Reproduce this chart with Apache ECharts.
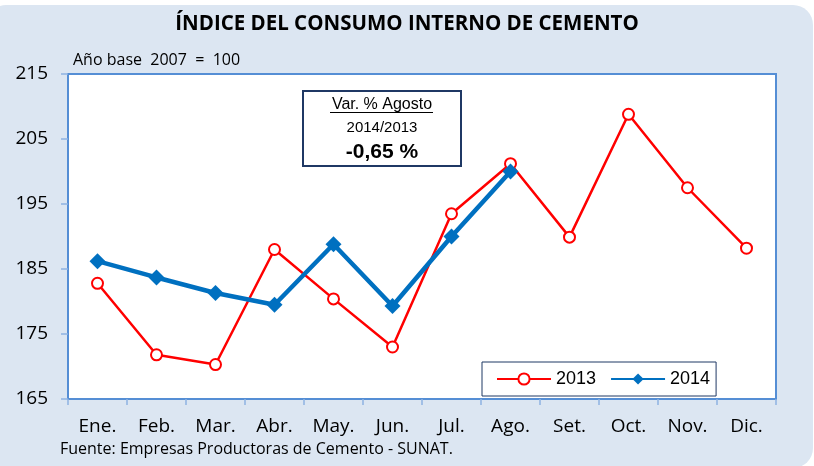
<!DOCTYPE html>
<html>
<head>
<meta charset="utf-8">
<script src="https://cdn.jsdelivr.net/npm/echarts@6/dist/echarts.min.js"></script>
<style>
    html, body { margin: 0; padding: 0; background: #ffffff; }
    #chart { width: 814px; height: 466px; }
</style>
</head>
<body>
<div id="chart"></div>
<script>
var months = ['Ene.', 'Feb.', 'Mar.', 'Abr.', 'May.', 'Jun.', 'Jul.', 'Ago.', 'Set.', 'Oct.', 'Nov.', 'Dic.'];
var values2013 = [182.8, 171.8, 170.3, 188.0, 180.4, 173.0, 193.5, 201.2, 189.9, 208.8, 197.5, 188.2];
var values2014 = [186.2, 183.7, 181.3, 179.5, 188.8, 179.3, 190.0, 200.0];
var yMin = 165, yMax = 215, yStep = 10;

var chartTitle = 'ÍNDICE DEL CONSUMO INTERNO DE CEMENTO';
var baseNote = 'Año base  2007  =  100';
var sourceNote = 'Fuente: Empresas Productoras de Cemento - SUNAT.';
var boxLines = ['Var. % Agosto', '2014/2013', '-0,65 %'];

var calibriLike = '"Open Sans", "DejaVu Sans", sans-serif';
var arialLike = '"Liberation Sans", Arial, sans-serif';

var myChart = echarts.init(document.getElementById('chart'));

var option = {
    animation: false,
    grid: {
        left: 68,
        right: 38,
        top: 74,
        bottom: 67,
        show: true,
        backgroundColor: '#ffffff',
        borderColor: '#558ed5',
        borderWidth: 2
    },
    graphic: [
        {
            type: 'rect',
            z: -10,
            silent: true,
            shape: { x: -14, y: 5, width: 827, height: 463, r: 20 },
            style: { fill: '#dce6f2' }
        },
        {
            type: 'text',
            left: 'center',
            top: 14,
            style: { text: chartTitle, fill: '#000', font: 'bold 20.5px ' + calibriLike }
        },
        {
            type: 'text',
            left: 73,
            top: 52,
            style: { text: baseNote, fill: '#000', font: '16px ' + calibriLike }
        },
        {
            type: 'text',
            left: 60,
            top: 441,
            style: { text: sourceNote, fill: '#000', font: '16px ' + calibriLike }
        },
        // recuadro de variacion
        {
            type: 'rect',
            z: 10,
            shape: { x: 303, y: 91, width: 158, height: 75 },
            style: { fill: '#ffffff', stroke: '#1f3864', lineWidth: 2 }
        },
        {
            type: 'text',
            z: 11,
            x: 382,
            y: 105,
            style: { text: boxLines[0], fill: '#000', font: '16px ' + arialLike, align: 'center', verticalAlign: 'middle' }
        },
        {
            type: 'line',
            z: 11,
            shape: { x1: 330, y1: 112.5, x2: 433, y2: 112.5 },
            style: { stroke: '#000', lineWidth: 1 }
        },
        {
            type: 'text',
            z: 11,
            x: 382,
            y: 128,
            style: { text: boxLines[1], fill: '#000', font: '15px ' + arialLike, align: 'center', verticalAlign: 'middle' }
        },
        {
            type: 'text',
            z: 11,
            x: 382,
            y: 152,
            style: { text: boxLines[2], fill: '#000', font: 'bold 21px ' + arialLike, align: 'center', verticalAlign: 'middle' }
        }
    ],
    legend: {
        left: 482,
        top: 362,
        padding: [8, 6, 8, 14],
        itemGap: 14,
        itemWidth: 54,
        itemHeight: 14,
        backgroundColor: '#ffffff',
        borderColor: '#1f3864',
        borderWidth: 1,
        textStyle: { color: '#000', fontSize: 18, fontFamily: arialLike },
        data: ['2013', '2014']
    },
    xAxis: {
        type: 'category',
        data: months,
        axisLine: { show: true, lineStyle: { color: '#558ed5', width: 2 } },
        axisTick: { show: true, length: 6, lineStyle: { color: '#8db3e2', width: 1.5 } },
        axisLabel: { color: '#000', fontSize: 19, fontFamily: calibriLike, margin: 18 },
        splitLine: { show: false }
    },
    yAxis: {
        type: 'value',
        min: yMin,
        max: yMax,
        interval: yStep,
        axisLine: { show: true, lineStyle: { color: '#558ed5', width: 2 } },
        axisTick: { show: true, length: 7, lineStyle: { color: '#8db3e2', width: 1.5 } },
        axisLabel: { color: '#000', fontSize: 19, fontFamily: calibriLike, margin: 20 },
        splitLine: { show: false }
    },
    series: [
        {
            name: '2013',
            type: 'line',
            data: values2013,
            symbol: 'circle',
            symbolSize: 11,
            z: 3,
            lineStyle: { color: '#ff0000', width: 2.5 },
            itemStyle: { color: '#ffffff', borderColor: '#ff0000', borderWidth: 2 }
        },
        {
            name: '2014',
            type: 'line',
            data: values2014,
            symbol: 'diamond',
            symbolSize: 16,
            z: 4,
            lineStyle: { color: '#0070c0', width: 4.5 },
            itemStyle: { color: '#0070c0' }
        }
    ]
};

myChart.setOption(option);
</script>
</body>
</html>
